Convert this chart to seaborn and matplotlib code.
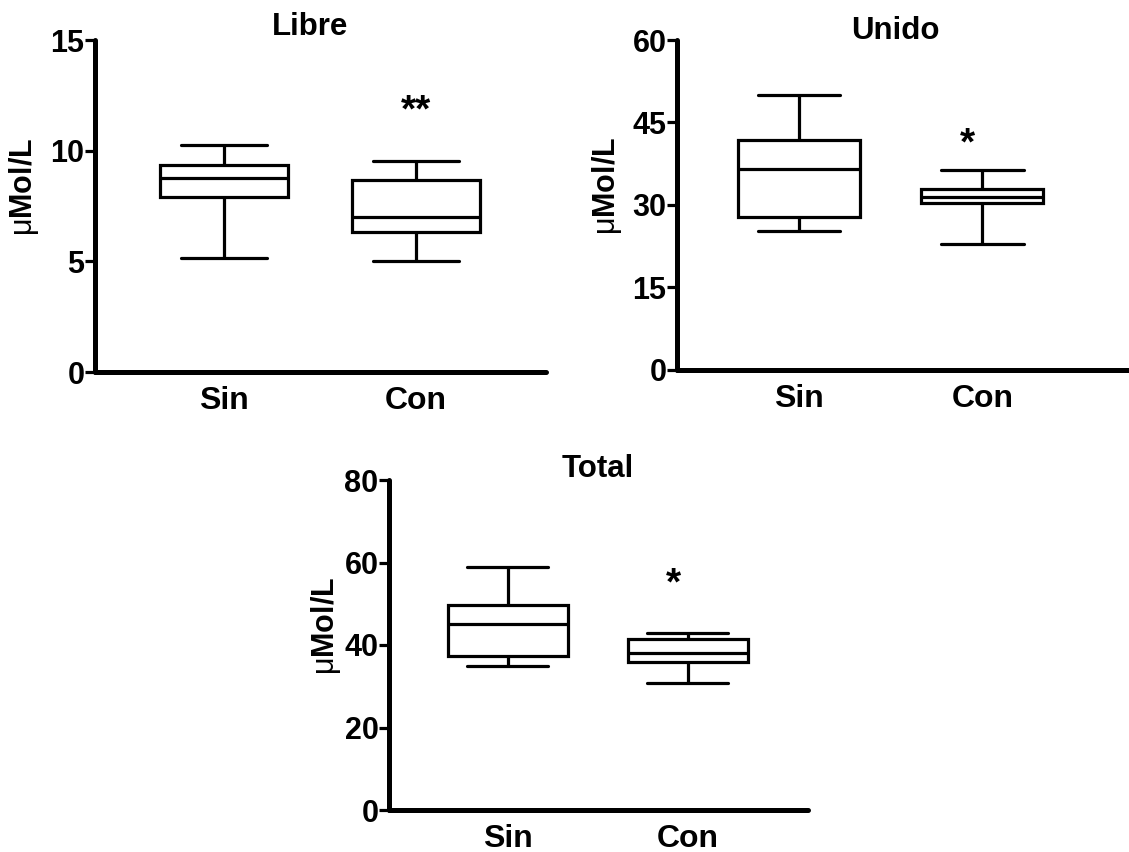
import matplotlib
matplotlib.use("Agg")
import matplotlib.pyplot as plt
import matplotlib.transforms as mtrans
import seaborn as sns
import pandas as pd

# ---- data: five-number summaries (min, Q1, median, Q3, max) ----
groups = ["Sin", "Con"]
libre_sin = [5.14, 7.92, 8.75, 9.37, 10.24]
libre_con = [5.02, 6.34, 7.02, 8.68, 9.53]
unido_sin = [25.3, 27.9, 36.5, 41.9, 50.0]
unido_con = [22.9, 30.3, 31.4, 32.9, 36.4]
total_sin = [35.0, 37.4, 45.1, 49.7, 58.8]
total_con = [30.9, 36.0, 38.1, 41.5, 43.0]
titles = ["Libre", "Unido", "Total"]
yticks_libre = [0, 5, 10, 15]
yticks_unido = [0, 15, 30, 45, 60]
yticks_total = [0, 20, 40, 60, 80]
marks = ["**", "*", "*"]
mark_y = [11.75, 41.0, 54.6]
mark_x = [1.0, 0.92, 0.92]

sns.set_theme(style="white")
plt.rcParams["font.family"] = ["Liberation Sans", "DejaVu Sans"]
plt.rcParams["mathtext.fontset"] = "custom"
plt.rcParams["mathtext.rm"] = "Liberation Sans"
plt.rcParams["mathtext.it"] = "Liberation Sans"
for k in ["text.color", "axes.labelcolor", "xtick.color", "ytick.color"]:
    plt.rcParams[k] = "black"

W, H = 1129, 852
fig = plt.figure(figsize=(W / 100, H / 100), dpi=100)

def frac(left, right, top, bottom):
    return [left / W, 1 - bottom / H, (right - left) / W, (bottom - top) / H]

panels = [
    dict(pos=frac(95, 546, 40, 372), data=(libre_sin, libre_con), yt=yticks_libre,
         xlim=(-0.672, 1.677), tx=0.477, ty_px=-5, lab=(-0.119, 0.557)),
    dict(pos=frac(677, 1138, 40, 370), data=(unido_sin, unido_con), yt=yticks_unido,
         xlim=(-0.667, 1.85), tx=0.473, ty_px=-1, lab=(-0.115, 0.557)),
    dict(pos=frac(389, 808, 480, 810), data=(total_sin, total_con), yt=yticks_total,
         xlim=(-0.661, 1.667), tx=0.498, ty_px=-3, lab=(-0.110, 0.558)),
]

for i, p in enumerate(panels):
    ax = fig.add_axes(p["pos"])
    df = pd.DataFrame({
        "grupo": [groups[0]] * 5 + [groups[1]] * 5,
        "valor": list(p["data"][0]) + list(p["data"][1]),
    })
    sns.boxplot(data=df, x="grupo", y="valor", order=groups, ax=ax,
                whis=(0, 100), width=0.667, color="white", linecolor="black",
                linewidth=2.3, capwidths=0.45, showfliers=False)
    ax.set_xlim(*p["xlim"])
    ax.set_ylim(p["yt"][0], p["yt"][-1])
    ax.set_yticks(p["yt"])
    ax.set_yticklabels([str(v) for v in p["yt"]], fontsize=22, fontweight="bold")
    ax.set_xticks([0, 1])
    ax.set_xticklabels(groups, fontsize=23, fontweight="bold")
    ax.tick_params(axis="x", length=0, pad=10)
    ax.tick_params(axis="y", direction="out", length=7, width=2.3, pad=0.5,
                   color="black", left=True)
    ax.set_xlabel("")
    ax.set_ylabel(r"$\mathrm{μ}$Mol/L", fontsize=22, fontweight="bold")
    ax.yaxis.set_label_coords(*p["lab"])
    for s in ["top", "right"]:
        ax.spines[s].set_visible(False)
    for s in ["left", "bottom"]:
        ax.spines[s].set_linewidth(3.6)
        ax.spines[s].set_color("black")
        ax.spines[s].set_capstyle("round")
    ax.text(p["tx"], 1.0, titles[i],
            transform=ax.transAxes + mtrans.ScaledTranslation(0, -p["ty_px"] / 100, fig.dpi_scale_trans),
            ha="center", va="baseline", fontsize=22.5, fontweight="bold")
    ax.text(mark_x[i], mark_y[i], marks[i], ha="center", va="center",
            fontsize=28, fontweight="bold")
    ax.set_facecolor("white")

fig.savefig("out.png", dpi=100, facecolor="white")
